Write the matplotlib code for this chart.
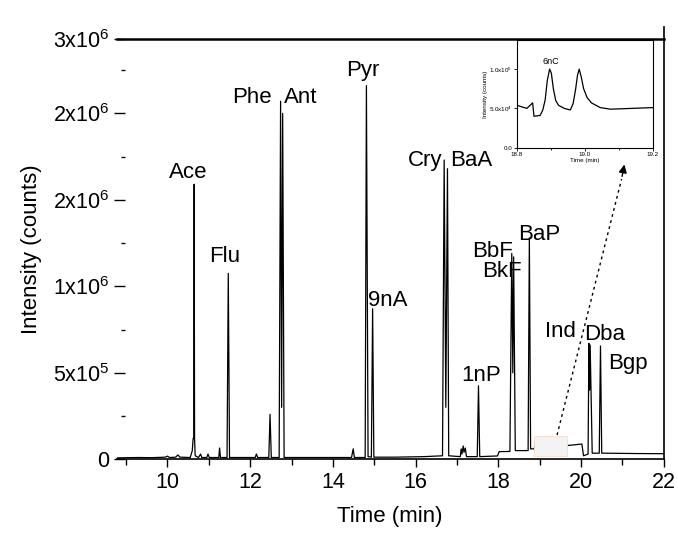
import numpy as np
import matplotlib
matplotlib.use('Agg')
import matplotlib.pyplot as plt
from matplotlib.patches import Rectangle
from matplotlib.ticker import MultipleLocator, FixedLocator

plt.rcParams['font.family'] = ['Liberation Sans', 'DejaVu Sans']
plt.rcParams['mathtext.default'] = 'regular'

## Data (intensity in units of 1e6 counts)

time_min = [8.77, 9.3, 9.6, 9.95, 10.0, 10.05, 10.2, 10.25, 10.3, 10.55, 10.6, 10.62, 10.635,
            10.645, 10.655, 10.67, 10.75, 10.8, 10.83, 10.95, 10.98, 11.01, 11.24, 11.26, 11.28,
            11.44, 11.47, 11.50, 11.9, 12.12, 12.15, 12.18, 12.45, 12.48, 12.51, 12.70, 12.735,
            12.76, 12.785, 12.82, 13.5, 14.45, 14.49, 14.52, 14.78, 14.81, 14.85, 14.93, 14.96,
            14.99, 15.5, 16.2, 16.65, 16.69, 16.73, 16.77, 16.80, 17.08, 17.10, 17.12, 17.15,
            17.17, 17.20, 17.23, 17.49, 17.52, 17.55, 17.98, 18.02, 18.28, 18.325, 18.35, 18.37,
            18.41, 18.72, 18.75, 18.78, 18.87, 18.89, 18.91, 18.95, 18.97, 19.0, 19.5, 20.02,
            20.06, 20.17, 20.19, 20.205, 20.22, 20.27, 20.44, 20.47, 20.50, 20.6, 21.3, 22.0]
intensity_M = [0.008, 0.010, 0.009, 0.012, 0.018, 0.010, 0.012, 0.025, 0.012, 0.010, 0.05, 0.12, 0.12,
               1.59, 0.12, 0.02, 0.010, 0.030, 0.010, 0.010, 0.030, 0.010, 0.010, 0.065, 0.010,
               0.010, 1.075, 0.010, 0.010, 0.010, 0.030, 0.010, 0.010, 0.26, 0.010, 0.010, 2.07,
               0.30, 2.00, 0.010, 0.010, 0.010, 0.06, 0.010, 0.010, 2.16, 0.015, 0.012, 0.87,
               0.012, 0.012, 0.015, 0.02, 1.73, 0.30, 1.68, 0.02, 0.015, 0.06, 0.03, 0.077,
               0.04, 0.065, 0.015, 0.015, 0.425, 0.015, 0.019, 0.044, 0.045, 1.19, 0.50, 1.17,
               0.05, 0.05, 1.28, 0.06, 0.06, 0.107, 0.07, 0.065, 0.107, 0.07, 0.075, 0.088,
               0.02, 0.03, 0.67, 0.40, 0.66, 0.035, 0.035, 0.655, 0.035, 0.035, 0.033, 0.032]

peak_names = ['Ace', 'Flu', 'Phe', 'Ant', 'Pyr', '9nA', 'Cry', 'BaA', 'BbF', 'BkF', 'BaP',
              '1nP', 'Ind', 'Dba', 'Bgp']
label_time = [10.50, 11.37, 12.04, 13.23, 14.72, 15.33, 16.22, 17.34, 17.85, 18.09, 18.98,
              17.58, 19.49, 20.58, 21.14]
label_int_M = [1.66, 1.17, 2.09, 2.09, 2.25, 0.92, 1.73, 1.73, 1.20, 1.085, 1.30,
               0.487, 0.736, 0.724, 0.551]

ytick_vals_M = [0, 0.5, 1.0, 1.5, 2.0, 2.43]
ytick_labels = ['0', '5x10$^5$', '1x10$^6$', '2x10$^6$', '2x10$^6$', '3x10$^6$']
xtick_vals = [10, 12, 14, 16, 18, 20, 22]

# zoomed region 18.8 - 19.2 min
inset_time = [18.8, 18.83, 18.847, 18.851, 18.869, 18.877, 18.884, 18.890, 18.897, 18.902,
              18.908, 18.915, 18.923, 18.94, 18.958, 18.966, 18.973, 18.979, 18.984, 18.99,
              18.997, 19.007, 19.02, 19.046, 19.076, 19.2]
inset_int = [5.4e4, 5.0e4, 5.7e4, 4.0e4, 4.1e4, 4.8e4, 6.1e4, 8.5e4, 1.0e5, 9.5e4,
             7.5e4, 6.0e4, 5.4e4, 5.0e4, 4.8e4, 5.6e4, 7.3e4, 9.2e4, 1.0e5, 9.0e4,
             7.5e4, 6.4e4, 5.7e4, 5.1e4, 4.9e4, 5.1e4]

## Main plot

fig = plt.figure(figsize=(6.78, 5.34), dpi=100)
ax = fig.add_axes([0.172, 0.140, 0.807, 0.787])

ax.plot(time_min, np.array(intensity_M) * 1e6, color='k', lw=0.9)

for name, t, y in zip(peak_names, label_time, label_int_M):
    ax.text(t, y * 1e6, name, fontsize=16, ha='center', va='center')

ax.add_patch(Rectangle((18.87, 0.02e6), 0.80, 0.115e6, facecolor='#f3f3f3',
                       edgecolor='#f6dccb', lw=0.6, zorder=3))
ax.plot([19.42, 20.98], [0.14e6, 1.62e6], color='k', lw=1, ls=(0, (2, 2.5)))
ax.annotate('', xy=(21.06, 1.72e6), xytext=(20.98, 1.62e6),
            arrowprops=dict(arrowstyle='-|>', color='k', lw=1, mutation_scale=12))
# right frame line pokes a little above the top line
ax.plot([1, 1], [1, 1.028], transform=ax.transAxes, color='k', lw=1.2, clip_on=False)

ax.set_xlim(8.77, 22)
ax.set_ylim(0, 2.43e6)
ax.set_xticks(xtick_vals)
ax.xaxis.set_minor_locator(MultipleLocator(1))
ax.set_yticks(np.array(ytick_vals_M) * 1e6)
ax.set_yticklabels(ytick_labels)
ax.yaxis.set_minor_locator(FixedLocator(np.array([0.25, 0.75, 1.25, 1.75, 2.25]) * 1e6))

ax.spines['left'].set_position(('data', 8.97))
ax.spines['left'].set_visible(False)
ax.spines['top'].set_linewidth(1.8)
ax.spines['right'].set_linewidth(1.2)
ax.spines['bottom'].set_linewidth(1.2)
ax.tick_params(axis='both', which='major', labelsize=15.5)
ax.tick_params(axis='x', which='major', direction='out', length=6, width=1)
ax.tick_params(axis='x', which='minor', direction='out', length=4, width=1)
ax.tick_params(axis='y', which='major', direction='out', length=8, width=1, pad=3)
ax.tick_params(axis='y', which='minor', direction='out', length=3, width=1)
ax.tick_params(top=False, right=False)
ax.set_xlabel('Time (min)', fontsize=16, labelpad=9)
ax.set_ylabel('Intensity (counts)', fontsize=16, labelpad=8)

## Inset

axin = fig.add_axes([0.762, 0.7234, 0.2006, 0.2017])
axin.plot(inset_time, inset_int, color='k', lw=0.9)
axin.text(18.9, 1.1e5, '6nC', fontsize=6.5, ha='center', va='center')
axin.set_xlim(18.8, 19.2)
axin.set_ylim(0, 1.37e5)
axin.set_xticks([18.8, 19.0, 19.2])
axin.set_xticklabels(['18.8', '19.0', '19.2'])
axin.xaxis.set_minor_locator(MultipleLocator(0.1))
axin.set_yticks([0, 5e4, 1e5])
axin.set_yticklabels(['0.0', '5.0x10$^4$', '1.0x10$^5$'])
axin.tick_params(labelsize=4.5, length=2, width=0.6, pad=1)
axin.tick_params(which='minor', length=1.2, width=0.6)
axin.set_xlabel('Time (min)', fontsize=4.5, labelpad=1)
axin.set_ylabel('Intensity (counts)', fontsize=4.5, labelpad=1)
for s in axin.spines.values():
    s.set_linewidth(0.8)

fig.savefig('out.png', dpi=100)
